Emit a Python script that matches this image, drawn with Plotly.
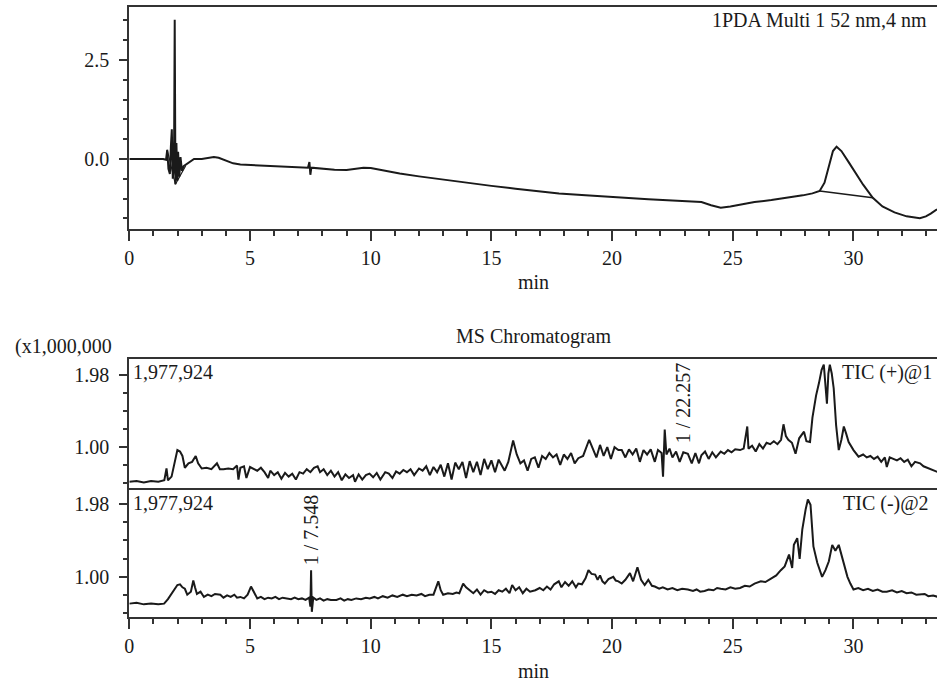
import plotly.graph_objects as go

# ---------------- data ----------------
pda_t = [0.0, 0.5, 1.0, 1.4, 1.52, 1.57, 1.62, 1.68, 1.72, 1.76, 1.8, 1.85, 1.88, 1.91, 1.95, 1.99,
         2.02, 2.07, 2.12, 2.18, 2.25, 2.4, 2.55, 2.68, 3.0, 3.3, 3.5, 3.7, 4.0, 4.3, 4.6, 5.0, 5.5,
         6.0, 6.5, 7.0, 7.4, 7.46, 7.5, 7.54, 8.0, 8.5, 9.0, 9.4, 9.7, 10.0, 10.4, 10.8, 11.2, 12.0,
         12.7, 13.5, 14.2, 15.0, 16.0, 16.8, 17.8, 18.9, 20.3, 21.5, 22.5, 23.3, 23.7, 24.1, 24.5,
         24.9, 25.4, 25.9, 26.6, 27.3, 27.9, 28.3, 28.6, 28.8, 29.0, 29.15, 29.3, 29.5, 29.8, 30.1,
         30.4, 30.8, 31.2, 31.7, 32.2, 32.75, 33.0, 33.2, 33.46]
pda_v = [0.0, 0.0, 0.01, 0.0, -0.02, 0.23, -0.25, -0.38, 0.3, 0.75, -0.5, -0.2, 3.52, -0.64, 0.4, -0.55,
         0.18, -0.45, 0.05, -0.3, -0.18, -0.12, -0.04, 0.0, 0.0, 0.04, 0.05, 0.03, -0.04, -0.11, -0.14,
         -0.15, -0.17, -0.18, -0.2, -0.21, -0.22, -0.08, -0.4, -0.22, -0.25, -0.27, -0.28, -0.25, -0.22,
         -0.23, -0.28, -0.33, -0.37, -0.44, -0.5, -0.56, -0.62, -0.68, -0.75, -0.81, -0.87, -0.92, -0.98,
         -1.02, -1.05, -1.07, -1.09, -1.17, -1.23, -1.2, -1.14, -1.09, -1.04, -0.98, -0.92, -0.87, -0.81,
         -0.6, -0.1, 0.2, 0.31, 0.2, -0.08, -0.38, -0.65, -0.98, -1.2, -1.35, -1.45, -1.5, -1.45, -1.38,
         -1.27]
# integration baselines drawn under peaks
pda_base1_t = [1.57, 1.91, 2.33]
pda_base1_v = [0.23, -0.64, -0.18]
pda_base2_t = [28.6, 30.8]
pda_base2_v = [-0.81, -0.98]

ticp_t = [0.0, 0.3, 0.6, 0.9, 1.2, 1.45, 1.54, 1.6, 1.75, 1.9, 1.99, 2.1, 2.2, 2.3, 2.45, 2.6, 2.75,
          2.85, 3.0, 3.2, 3.4, 3.63, 3.75, 3.9, 4.1, 4.3, 4.46, 4.52, 4.6, 4.75, 4.85, 5.0, 5.15, 5.3,
          5.45, 5.6, 5.75, 5.84, 6.0, 6.15, 6.3, 6.45, 6.6, 6.75, 6.9, 7.05, 7.2, 7.35, 7.5, 7.65, 7.8,
          7.9, 8.05, 8.2, 8.35, 8.5, 8.65, 8.8, 8.95, 9.1, 9.27, 9.35, 9.5, 9.65, 9.8, 9.95, 10.1, 10.25,
          10.4, 10.6, 10.75, 10.9, 11.05, 11.2, 11.35, 11.5, 11.65, 11.8, 12.0, 12.15, 12.3, 12.45, 12.6,
          12.75, 12.9, 13.05, 13.2, 13.35, 13.5, 13.65, 13.8, 13.95, 14.1, 14.25, 14.4, 14.55, 14.7,
          14.85, 15.0, 15.15, 15.3, 15.45, 15.55, 15.7, 15.9, 16.05, 16.2, 16.35, 16.5, 16.65, 16.8,
          16.95, 17.1, 17.25, 17.4, 17.55, 17.7, 17.85, 18.0, 18.15, 18.3, 18.45, 18.6, 18.8, 19.05,
          19.2, 19.35, 19.5, 19.65, 19.8, 19.95, 20.1, 20.26, 20.4, 20.55, 20.7, 20.85, 21.0, 21.15,
          21.3, 21.45, 21.6, 21.77, 21.9, 22.05, 22.11, 22.18, 22.25, 22.38, 22.5, 22.65, 22.8, 22.95,
          23.14, 23.3, 23.45, 23.6, 23.7, 23.85, 24.0, 24.15, 24.3, 24.5, 24.65, 24.8, 24.95, 25.1,
          25.3, 25.45, 25.6, 25.65, 25.8, 25.95, 26.1, 26.25, 26.4, 26.55, 26.7, 26.85, 27.0, 27.1,
          27.2, 27.3, 27.45, 27.6, 27.75, 27.95, 28.05, 28.2, 28.3, 28.45, 28.57, 28.68, 28.77, 28.85,
          28.9, 28.96, 29.02, 29.1, 29.18, 29.28, 29.39, 29.5, 29.6, 29.7, 29.8, 30.0, 30.21, 30.4,
          30.55, 30.7, 30.85, 31.0, 31.15, 31.3, 31.38, 31.5, 31.65, 31.8, 31.95, 32.1, 32.25, 32.4,
          32.55, 32.76, 32.9, 33.05, 33.2, 33.35, 33.5]
ticp_v = [0.53, 0.54, 0.52, 0.54, 0.53, 0.55, 0.71, 0.55, 0.6, 0.85, 0.96, 0.94, 0.88, 0.72, 0.78, 0.8,
          0.88, 0.78, 0.71, 0.72, 0.7, 0.78, 0.7, 0.7, 0.71, 0.7, 0.75, 0.56, 0.72, 0.74, 0.58, 0.73,
          0.7, 0.68, 0.72, 0.66, 0.58, 0.68, 0.62, 0.66, 0.57, 0.65, 0.6, 0.64, 0.56, 0.66, 0.64, 0.7,
          0.66, 0.72, 0.74, 0.66, 0.7, 0.62, 0.68, 0.6, 0.66, 0.55, 0.63, 0.58, 0.62, 0.53, 0.63, 0.56,
          0.62, 0.64, 0.59, 0.65, 0.56, 0.66, 0.64, 0.58, 0.67, 0.64, 0.69, 0.66, 0.7, 0.62, 0.71, 0.68,
          0.74, 0.62, 0.73, 0.66, 0.76, 0.6, 0.78, 0.56, 0.79, 0.7, 0.8, 0.58, 0.81, 0.66, 0.8, 0.62,
          0.84, 0.7, 0.82, 0.66, 0.83, 0.73, 0.68, 0.8, 1.09, 0.9, 0.78, 0.82, 0.68, 0.84, 0.86, 0.72,
          0.88, 0.84, 0.92, 0.86, 0.9, 0.76, 0.9, 0.84, 0.92, 0.78, 0.85, 0.88, 1.1, 0.98, 0.86, 1.03,
          0.88, 1.0, 0.84, 1.0, 0.96, 0.96, 0.86, 0.97, 0.9, 0.98, 0.8, 0.96, 0.9, 0.97, 0.8, 0.96, 0.92,
          0.6, 1.24, 0.9, 0.98, 0.86, 0.94, 0.8, 0.93, 0.91, 0.78, 0.92, 0.78, 0.89, 0.94, 0.84, 0.93,
          0.86, 0.94, 0.91, 0.96, 0.93, 0.97, 0.96, 0.98, 1.28, 0.98, 1.02, 0.94, 1.04, 0.98, 1.06, 1.04,
          1.08, 1.04, 1.1, 1.31, 1.15, 1.1, 1.06, 0.91, 1.12, 1.21, 1.08, 1.07, 1.4, 1.7, 1.87, 2.05,
          2.12, 1.8, 1.59, 2.0, 2.12, 2.0, 1.8, 1.3, 0.96, 1.1, 1.28, 1.18, 1.07, 0.96, 0.87, 0.9, 0.86,
          0.88, 0.84, 0.87, 0.8, 0.86, 0.73, 0.86, 0.84, 0.82, 0.85, 0.8, 0.83, 0.74, 0.8, 0.78, 0.74,
          0.72, 0.7, 0.67, 0.66]

ticm_t = [0.0, 0.3, 0.6, 0.9, 1.2, 1.44, 1.6, 1.8, 1.99, 2.1, 2.2, 2.3, 2.4, 2.55, 2.65, 2.72, 2.8,
          2.95, 3.09, 3.25, 3.4, 3.55, 3.77, 3.9, 4.05, 4.2, 4.35, 4.46, 4.6, 4.75, 4.9, 5.04, 5.15,
          5.3, 5.45, 5.6, 5.75, 5.9, 6.05, 6.2, 6.35, 6.52, 6.7, 6.85, 7.0, 7.15, 7.3, 7.45, 7.5, 7.53,
          7.56, 7.62, 7.75, 7.9, 8.05, 8.2, 8.35, 8.58, 8.75, 8.9, 9.05, 9.2, 9.4, 9.6, 9.8, 9.96,
          10.15, 10.3, 10.5, 10.7, 10.9, 11.1, 11.33, 11.5, 11.7, 11.9, 12.1, 12.25, 12.43, 12.6, 12.8,
          12.9, 13.0, 13.2, 13.4, 13.55, 13.67, 13.83, 13.95, 14.1, 14.25, 14.4, 14.55, 14.7, 14.85,
          15.0, 15.15, 15.3, 15.45, 15.6, 15.75, 15.86, 16.0, 16.15, 16.3, 16.45, 16.6, 16.82, 17.0,
          17.15, 17.3, 17.45, 17.6, 17.79, 17.9, 18.05, 18.2, 18.35, 18.5, 18.6, 18.75, 18.9, 19.02,
          19.15, 19.3, 19.4, 19.5, 19.6, 19.7, 19.85, 20.05, 20.15, 20.26, 20.4, 20.55, 20.74, 20.87,
          21.05, 21.2, 21.35, 21.5, 21.65, 21.77, 21.95, 22.1, 22.3, 22.5, 22.7, 22.9, 23.14, 23.35,
          23.5, 23.65, 23.83, 24.0, 24.2, 24.35, 24.5, 24.7, 24.9, 25.1, 25.3, 25.5, 25.7, 25.9, 26.16,
          26.35, 26.6, 26.8, 26.99, 27.15, 27.33, 27.4, 27.46, 27.53, 27.67, 27.77, 27.88, 28.02, 28.11,
          28.22, 28.34, 28.5, 28.6, 28.7, 28.84, 28.98, 29.12, 29.25, 29.39, 29.5, 29.6, 29.75, 29.87,
          30.0, 30.2, 30.4, 30.6, 30.8, 31.0, 31.2, 31.38, 31.6, 31.8, 32.0, 32.2, 32.4, 32.6, 32.76,
          32.95, 33.1, 33.3, 33.5]
ticm_v = [0.64, 0.65, 0.63, 0.64, 0.63, 0.64, 0.7, 0.8, 0.89, 0.9, 0.86, 0.84, 0.76, 0.8, 0.95, 0.86,
          0.77, 0.8, 0.73, 0.76, 0.74, 0.77, 0.76, 0.72, 0.75, 0.73, 0.76, 0.72, 0.73, 0.71, 0.76, 0.87,
          0.8, 0.71, 0.73, 0.7, 0.72, 0.71, 0.73, 0.7, 0.72, 0.71, 0.7, 0.72, 0.7, 0.71, 0.69, 0.72, 0.6,
          1.09, 0.53, 0.72, 0.69, 0.71, 0.68, 0.7, 0.69, 0.69, 0.71, 0.68, 0.7, 0.69, 0.71, 0.7, 0.72,
          0.71, 0.73, 0.71, 0.74, 0.72, 0.75, 0.73, 0.76, 0.74, 0.76, 0.75, 0.77, 0.74, 0.76, 0.76, 0.94,
          0.82, 0.76, 0.78, 0.77, 0.79, 0.78, 0.91, 0.86, 0.82, 0.78, 0.83, 0.76, 0.82, 0.79, 0.8, 0.77,
          0.82, 0.8, 0.84, 0.78, 0.89, 0.82, 0.86, 0.78, 0.84, 0.8, 0.82, 0.85, 0.82, 0.87, 0.83, 0.9,
          0.94, 0.86, 0.93, 0.88, 0.94, 0.86, 0.91, 0.9, 0.98, 1.09, 1.04, 1.03, 0.96, 1.02, 0.94, 0.91,
          0.97, 1.0, 0.95, 0.94, 0.91, 0.96, 1.05, 0.94, 1.13, 0.96, 0.89, 0.96, 0.88, 0.87, 0.84, 0.86,
          0.83, 0.85, 0.82, 0.84, 0.83, 0.81, 0.83, 0.8, 0.81, 0.83, 0.82, 0.85, 0.84, 0.83, 0.86, 0.84,
          0.85, 0.88, 0.87, 0.91, 0.94, 0.93, 0.98, 1.02, 1.09, 1.14, 1.3, 1.2, 1.12, 1.43, 1.52, 1.24,
          1.64, 1.91, 2.04, 1.97, 1.41, 1.19, 1.08, 1.0, 1.09, 1.21, 1.43, 1.35, 1.43, 1.3, 1.16, 1.0,
          0.91, 0.83, 0.85, 0.82, 0.84, 0.81, 0.83, 0.8, 0.8, 0.82, 0.79, 0.81, 0.78, 0.79, 0.76, 0.76,
          0.77, 0.74, 0.75, 0.73]

x_ticks = [0, 5, 10, 15, 20, 25, 30]
x_tick_labels = ["0", "5", "10", "15", "20", "25", "30"]
pda_ticks = [0.0, 2.5]
pda_tick_labels = ["0.0", "2.5"]
ms_ticks = [1.00, 1.98]
ms_tick_labels = ["1.00", "1.98"]

# ---------------- layout helpers ----------------
W, H = 937, 684
FONT = "Liberation Serif"
INK = "#1a1a1a"
AX = "#333333"
FS = 20


def px(x):
    return x / W


def py(y):
    return 1 - y / H


X0 = px(125)
dom_top = [py(229), py(7)]
dom_p1 = [py(488), py(359)]
dom_p2 = [py(617), py(488)]
XR = [0, 33.46]

fig = go.Figure()
line = dict(color=INK, width=2)
fig.add_trace(go.Scatter(x=pda_t, y=pda_v, mode="lines", line=line, xaxis="x", yaxis="y"))
fig.add_trace(go.Scatter(x=pda_base1_t, y=pda_base1_v, mode="lines", line=dict(color=INK, width=1.2), xaxis="x", yaxis="y"))
fig.add_trace(go.Scatter(x=pda_base2_t, y=pda_base2_v, mode="lines", line=dict(color=INK, width=1.6), xaxis="x", yaxis="y"))
fig.add_trace(go.Scatter(x=ticp_t, y=ticp_v, mode="lines", line=line, xaxis="x2", yaxis="y2"))
fig.add_trace(go.Scatter(x=ticm_t, y=ticm_v, mode="lines", line=line, xaxis="x3", yaxis="y3"))

tickfont = dict(family=FONT, size=FS, color=INK)
common_x = dict(range=XR, domain=[X0, 1], showline=True, linecolor=AX, linewidth=2,
                showgrid=False, zeroline=False, tickfont=tickfont)
xticks_on = dict(tickmode="array", tickvals=x_ticks, ticktext=x_tick_labels, ticks="outside",
                 ticklen=10, tickwidth=1.5, tickcolor=AX,
                 minor=dict(dtick=1, tick0=0, ticks="outside", ticklen=5, tickwidth=1.5, tickcolor=AX))
ms_minor = dict(tickvals=[0.51, 0.755, 1.245, 1.49, 1.735], ticks="outside",
                ticklen=4, tickwidth=1.5, tickcolor=AX)
common_y = dict(showline=True, linecolor=AX, linewidth=2, showgrid=False, zeroline=False,
                tickmode="array", ticks="outside", ticklen=8, tickwidth=1.5, tickcolor=AX,
                tickfont=tickfont, ticklabelstandoff=6)

fig.update_layout(
    width=W, height=H, margin=dict(l=0, r=0, t=0, b=0),
    paper_bgcolor="white", plot_bgcolor="white", showlegend=False,
    xaxis=dict(**common_x, **xticks_on, anchor="y", mirror=True),
    xaxis2=dict(**common_x, anchor="y2", mirror=True, showticklabels=False, ticks=""),
    xaxis3=dict(**common_x, **xticks_on, anchor="y3", mirror=False),
    yaxis=dict(**common_y, domain=dom_top, range=[-1.77, 3.84], anchor="x",
               tickvals=pda_ticks, ticktext=pda_tick_labels,
               minor=dict(tickvals=[-1.5, -1.0, -0.5, 0.5, 1.0, 1.5, 2.0, 3.0, 3.5], ticks="outside",
                          ticklen=4, tickwidth=1.5, tickcolor=AX)),
    yaxis2=dict(**common_y, domain=dom_p1, range=[0.445, 2.197], anchor="x2",
                tickvals=ms_ticks, ticktext=ms_tick_labels, minor=ms_minor),
    yaxis3=dict(**common_y, domain=dom_p2, range=[0.46, 2.195], anchor="x3",
                tickvals=ms_ticks, ticktext=ms_tick_labels, minor=ms_minor),
)

txt = dict(family=FONT, size=FS, color=INK)


def ann(text, x, y, xanchor="center", yanchor="middle", angle=0):
    fig.add_annotation(text=text, x=px(x), y=py(y), xref="paper", yref="paper", showarrow=False,
                       xanchor=xanchor, yanchor=yanchor, textangle=angle, font=txt)


ann("1PDA Multi 1 52 nm,4 nm", 929, 20, xanchor="right")
ann("min", 531, 295, yanchor="bottom")
ann("MS Chromatogram", 531, 336)
ann("(x1,000,000", 8, 346, xanchor="left")
ann("1,977,924", 127, 372, xanchor="left")
ann("1,977,924", 127, 503, xanchor="left")
ann("TIC (+)@1", 934, 372, xanchor="right")
ann("TIC (-)@2", 931, 503, xanchor="right")
ann("1 / 22.257", 682, 403, angle=-90)
ann("1 / 7.548", 308, 530, angle=-90)
ann("min", 531, 684, yanchor="bottom")

fig.write_html("out.html", config={"displayModeBar": False},
               post_script="document.body.style.margin='0px';document.body.style.overflow='hidden';")
